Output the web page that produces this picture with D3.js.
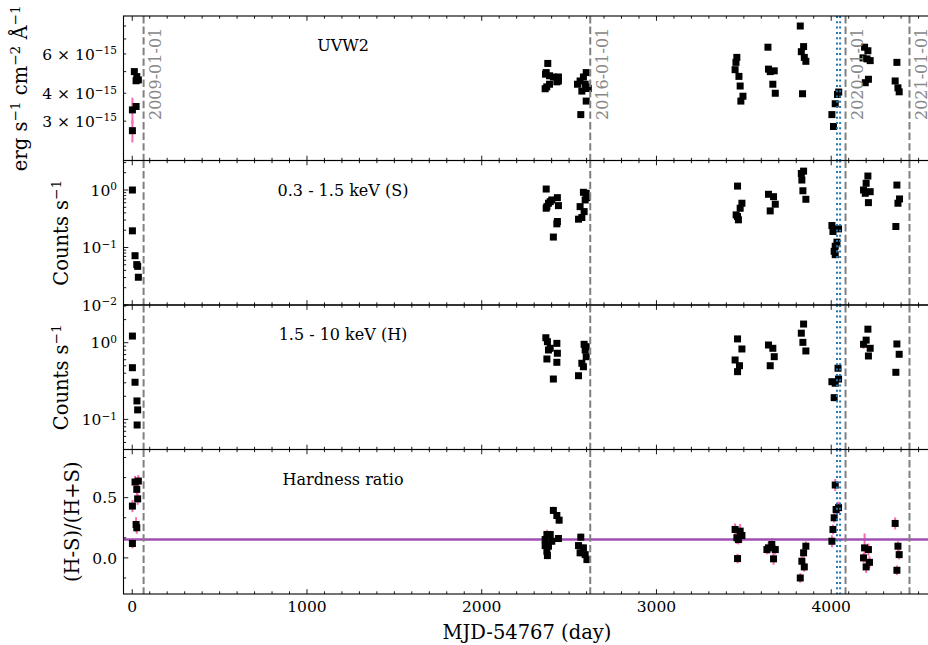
<!DOCTYPE html>
<html>
<head>
<meta charset="utf-8">
<script src="https://cdn.jsdelivr.net/npm/d3@7"></script>
<style>
  body { margin: 0; background: #fff; }
  text { font-family: "DejaVu Serif", serif; fill: #000; }
</style>
</head>
<body>
<div id="chart"></div>
<script>
// each point: [MJD-54767, value, error]
// UVW2 flux in units of 1e-15 erg s-1 cm-2 A-1
var uvw2Data = [
  [12, 5.00, 0.10], [26, 4.75, 0.10], [35, 4.59, 0.10], [22, 4.55, 0.10], [22, 3.49, 0.12], [1, 3.37, 0.45], [1, 2.72, 0.31],
  [2378, 5.44, 0.08], [2369, 4.95, 0.08], [2365, 4.87, 0.08], [2388, 4.79, 0.08], [2410, 4.73, 0.08], [2439, 4.73, 0.08],
  [2439, 4.54, 0.08], [2388, 4.39, 0.08], [2372, 4.27, 0.08], [2363, 4.19, 0.08], [2430, 4.50, 0.08],
  [2598, 4.95, 0.08], [2582, 4.73, 0.08], [2563, 4.54, 0.08], [2548, 4.39, 0.08], [2592, 4.39, 0.08], [2573, 4.09, 0.08],
  [2598, 4.27, 0.08], [2598, 3.69, 0.08], [2567, 3.21, 0.08], [2610, 4.20, 0.08],
  [3460, 5.79, 0.08], [3455, 5.50, 0.08], [3450, 5.10, 0.08], [3472, 4.76, 0.08], [3479, 4.31, 0.08], [3495, 3.88, 0.08], [3483, 3.69, 0.08],
  [3638, 6.43, 0.08], [3641, 5.13, 0.08], [3651, 5.00, 0.08], [3674, 5.04, 0.08], [3666, 4.39, 0.08], [3680, 4.00, 0.08],
  [3823, 8.00, 0.08], [3842, 6.47, 0.08], [3829, 6.14, 0.08], [3846, 5.79, 0.08], [3855, 5.56, 0.08], [3836, 3.98, 0.08],
  [4036, 3.95, 0.08], [4043, 4.05, 0.08], [4023, 3.59, 0.08], [4004, 3.21, 0.08], [4013, 2.84, 0.08],
  [4191, 6.43, 0.08], [4210, 6.20, 0.08], [4182, 5.76, 0.08], [4223, 5.60, 0.08], [4213, 4.62, 0.08], [4195, 4.46, 0.08], [4205, 5.70, 0.08],
  [4376, 5.50, 0.08], [4366, 4.54, 0.08], [4382, 4.23, 0.08], [4389, 4.06, 0.08]
];

// 0.3 - 1.5 keV count rate
var softData = [
  [1, 1.0, 0.03], [1, 0.195, 0.01], [16, 0.072, 0.004], [26, 0.0504, 0.003], [31, 0.047, 0.003], [35, 0.0304, 0.003],
  [2369, 1.04, 0.03], [2373, 0.514, 0.02], [2369, 0.482, 0.02], [2392, 0.627, 0.02], [2433, 0.736, 0.02], [2439, 0.535, 0.02],
  [2433, 0.283, 0.01], [2430, 0.258, 0.01], [2410, 0.152, 0.008], [2382, 0.589, 0.02], [2401, 0.671, 0.02],
  [2582, 0.912, 0.03], [2598, 0.877, 0.03], [2592, 0.671, 0.02], [2563, 0.514, 0.02], [2586, 0.421, 0.02], [2573, 0.332, 0.01],
  [2554, 0.311, 0.01], [2602, 0.736, 0.02],
  [3464, 1.17, 0.04], [3489, 0.589, 0.02], [3479, 0.482, 0.02], [3456, 0.369, 0.02], [3469, 0.303, 0.01], [3464, 0.345, 0.02],
  [3641, 0.843, 0.03], [3670, 0.766, 0.03], [3680, 0.566, 0.02], [3651, 0.433, 0.02],
  [3842, 2.13, 0.06], [3829, 1.94, 0.06], [3832, 1.49, 0.05], [3838, 0.97, 0.03], [3855, 0.69, 0.02],
  [4004, 0.241, 0.01], [4010, 0.19, 0.01], [4042, 0.211, 0.01], [4033, 0.124, 0.006], [4023, 0.105, 0.006], [4017, 0.0857, 0.005], [4023, 0.075, 0.005],
  [4210, 1.75, 0.05], [4200, 1.31, 0.04], [4185, 1.0, 0.12], [4223, 0.935, 0.03], [4195, 0.877, 0.03], [4213, 0.603, 0.02],
  [4376, 1.22, 0.04], [4391, 0.699, 0.02], [4382, 0.589, 0.02], [4370, 0.232, 0.01]
];

// 1.5 - 10 keV count rate
var hardData = [
  [1, 1.22, 0.04], [1, 0.472, 0.02], [16, 0.305, 0.015], [27, 0.174, 0.01], [31, 0.133, 0.008], [28, 0.0845, 0.006],
  [2367, 1.16, 0.04], [2376, 1.03, 0.03], [2392, 0.845, 0.03], [2430, 0.98, 0.03], [2373, 0.613, 0.02], [2433, 0.728, 0.02],
  [2430, 0.555, 0.02], [2410, 0.336, 0.015], [2382, 0.803, 0.03],
  [2586, 0.953, 0.03], [2598, 0.887, 0.03], [2598, 0.657, 0.02], [2573, 0.539, 0.02], [2582, 0.486, 0.02], [2554, 0.371, 0.015], [2592, 0.803, 0.03],
  [3464, 1.12, 0.04], [3489, 0.828, 0.03], [3450, 0.595, 0.02], [3475, 0.501, 0.02], [3464, 0.419, 0.02],
  [3641, 0.933, 0.03], [3666, 0.845, 0.03], [3674, 0.657, 0.02], [3651, 0.501, 0.02],
  [3842, 1.75, 0.05], [3829, 1.33, 0.04], [3838, 1.01, 0.03], [3855, 0.78, 0.03],
  [4039, 0.464, 0.02], [4004, 0.31, 0.015], [4023, 0.296, 0.015], [4042, 0.336, 0.015], [4017, 0.192, 0.01],
  [4210, 1.50, 0.05], [4200, 1.08, 0.04], [4185, 0.953, 0.12], [4223, 0.845, 0.03], [4213, 0.671, 0.02],
  [4376, 0.962, 0.03], [4389, 0.706, 0.02], [4370, 0.411, 0.02]
];

// hardness ratio (H-S)/(H+S)
var hrData = [
  [16, 0.63, 0.05], [35, 0.638, 0.05], [26, 0.569, 0.05], [31, 0.49, 0.05], [1, 0.43, 0.05], [22, 0.277, 0.06], [26, 0.25, 0.05], [1, 0.119, 0.04],
  [2410, 0.394, 0.03], [2430, 0.352, 0.03], [2443, 0.313, 0.03], [2373, 0.194, 0.04], [2392, 0.194, 0.03], [2439, 0.161, 0.03],
  [2363, 0.102, 0.03], [2382, 0.097, 0.03], [2373, 0.055, 0.03], [2376, 0.019, 0.03], [2401, 0.138, 0.03], [2363, 0.152, 0.03],
  [2567, 0.172, 0.03], [2554, 0.102, 0.03], [2582, 0.083, 0.03], [2563, 0.042, 0.03], [2592, 0.027, 0.03], [2602, -0.014, 0.03],
  [3450, 0.236, 0.05], [3479, 0.222, 0.06], [3489, 0.186, 0.05], [3460, 0.167, 0.05], [3469, 0.152, 0.04], [3464, -0.006, 0.04],
  [3641, 0.083, 0.05], [3660, 0.111, 0.05], [3680, 0.069, 0.04], [3632, 0.069, 0.04], [3670, -0.008, 0.05],
  [3855, 0.097, 0.04], [3842, 0.042, 0.04], [3832, -0.028, 0.04], [3846, -0.075, 0.04], [3823, -0.167, 0.04],
  [4023, 0.605, 0.05], [4042, 0.417, 0.05], [4028, 0.402, 0.04], [4017, 0.333, 0.04], [4010, 0.236, 0.04], [4004, 0.138, 0.05],
  [4191, 0.083, 0.12], [4213, 0.069, 0.05], [4185, 0.0, 0.04], [4219, -0.037, 0.05], [4200, -0.075, 0.05],
  [4366, 0.286, 0.05], [4382, 0.097, 0.04], [4389, 0.027, 0.04], [4376, -0.103, 0.04]
];

var hrMean = 0.152;
var dateLines = [[65, "2009-01-01"], [2621, "2016-01-01"], [4082, "2020-01-01"], [4448, "2021-01-01"]];
var dotLines = [4033, 4051];
var xMajor = [0, 1000, 2000, 3000, 4000];

var W = 928, H = 645;
var padL = 123.5, padR = 935, padT = 16, padB = 594;
var ph = (padB - padT) / 4;

var svg = d3.select("#chart").append("svg")
  .attr("width", W)
  .attr("height", H)

svg.append("rect").attr("width", W).attr("height", H).attr("fill", "#fff")

// axes run a little past the right edge of the picture
var x = d3.scaleLinear().domain([-50, 4594]).range([padL, padR])

// log ticks between lo and hi
function logTicks(lo, hi) {
  var out = []
  for (var e = -16; e <= 1; e++) {
    for (var m = 1; m <= 9; m++) {
      var v = m * Math.pow(10, e)
      if (v >= lo * 0.999 && v <= hi) out.push({ v: v, major: m == 1 })
    }
  }
  return out
}

// write text with superscript parts: [[str, isSup], ...]
function richText(sel, parts, supScale, rise) {
  var up = false
  parts.forEach(function (p) {
    var t = sel.append("tspan").text(p[0])
    if (p[1] && !up) { t.attr("dy", -rise).attr("font-size", supScale + "em"); up = true }
    else if (p[1]) { t.attr("font-size", supScale + "em") }
    else if (up) { t.attr("dy", rise); up = false }
  })
}

var panels = [
  {
    data: uvw2Data, unit: 1e-15, log: true,
    y: d3.scaleLog().domain([2.0e-15, 8.87e-15]),
    ticks: [3, 4, 5, 6, 7, 8].map(function (m) { return { v: m * 1e-15, major: false } }),
    labels: [[3e-15, [["3 × 10", 0], ["−15", 1]]], [4e-15, [["4 × 10", 0], ["−15", 1]]], [6e-15, [["6 × 10", 0], ["−15", 1]]]],
    note: "UVW2",
    ylabel: [["erg s", 0], ["−1", 1], [" cm", 0], ["−2", 1], [" Å", 0], ["−1", 1]], ylx: 27
  },
  {
    data: softData, unit: 1, log: true,
    y: d3.scaleLog().domain([0.01, 3.26]),
    ticks: logTicks(0.01, 3.26),
    labels: [[0.01, [["10", 0], ["−2", 1]]], [0.1, [["10", 0], ["−1", 1]]], [1, [["10", 0], ["0", 1]]]],
    note: "0.3 - 1.5 keV (S)",
    ylabel: [["Counts s", 0], ["−1", 1]], ylx: 68
  },
  {
    data: hardData, unit: 1, log: true,
    y: d3.scaleLog().domain([0.0405, 3.10]),
    ticks: logTicks(0.0405, 3.10),
    labels: [[0.1, [["10", 0], ["−1", 1]]], [1, [["10", 0], ["0", 1]]]],
    note: "1.5 - 10 keV (H)",
    ylabel: [["Counts s", 0], ["−1", 1]], ylx: 68
  },
  {
    data: hrData, unit: 1, log: false,
    y: d3.scaleLinear().domain([-0.3, 0.9]),
    ticks: [{ v: 0, major: true }, { v: 0.5, major: true }].concat([-1, 1, 2, 4, 5].map(function (k) { return { v: k / 6, major: false } })),
    labels: [[0, [["0.0", 0]]], [0.5, [["0.5", 0]]]],
    note: "Hardness ratio",
    ylabel: [["(H-S)/(H+S)", 0]], ylx: 79
  }
]

panels.forEach(function (p, i) {
  var y0 = padT + i * ph, y1 = y0 + ph
  p.y.range([y1, y0])
  var g = svg.append("g")

  // error bars
  g.selectAll(".err").data(p.data).enter().append("line")
    .attr("x1", function (d) { return x(d[0]) })
    .attr("x2", function (d) { return x(d[0]) })
    .attr("y1", function (d) { return p.y((d[1] + d[2]) * p.unit) })
    .attr("y2", function (d) {
      var lo = d[1] - d[2]
      if (p.log && lo <= 0) lo = d[1] * 0.5
      return p.y(lo * p.unit)
    })
    .attr("stroke", "#ff69b4")
    .attr("stroke-width", 2)

  if (i == 3) {
    g.append("line")
      .attr("x1", padL).attr("x2", padR)
      .attr("y1", p.y(hrMean)).attr("y2", p.y(hrMean))
      .attr("stroke", "#9e4fb0")
      .attr("stroke-width", 2.5)
  }

  // markers
  g.selectAll(".pt").data(p.data).enter().append("rect")
    .attr("x", function (d) { return x(d[0]) - 3.5 })
    .attr("y", function (d) { return p.y(d[1] * p.unit) - 3.5 })
    .attr("width", 7)
    .attr("height", 7)
    .attr("fill", "#000")

  // date lines
  dateLines.forEach(function (dl) {
    g.append("line")
      .attr("x1", x(dl[0])).attr("x2", x(dl[0]))
      .attr("y1", y0).attr("y2", y1)
      .attr("stroke", "#808080")
      .attr("stroke-width", 2)
      .attr("stroke-dasharray", "7.4,3.2")
  })
  dotLines.forEach(function (t) {
    g.append("line")
      .attr("x1", x(t)).attr("x2", x(t))
      .attr("y1", y0).attr("y2", y1)
      .attr("stroke", "#1f77b4")
      .attr("stroke-width", 2)
      .attr("stroke-dasharray", "2,3.3")
  })

  if (i == 0) {
    dateLines.forEach(function (dl) {
      g.append("text")
        .attr("transform", "translate(" + (x(dl[0]) + 17.5) + ",120) rotate(-90)")
        .attr("font-size", "16px")
        .style("fill", "#888")
        .text(dl[1])
    })
  }

  // frame
  g.append("rect")
    .attr("x", padL).attr("y", y0)
    .attr("width", padR - padL).attr("height", ph)
    .attr("fill", "none")
    .attr("stroke", "#000")
    .attr("stroke-width", 1.1)

  // y ticks, both sides, inward
  p.ticks.forEach(function (t) {
    var yy = p.y(t.v), len = t.major ? 4.8 : 2.7
    if (yy < y0 - 0.5 || yy > y1 + 0.5) return
    g.append("line").attr("x1", padL).attr("x2", padL + len).attr("y1", yy).attr("y2", yy).attr("stroke", "#000").attr("stroke-width", 0.9)
    g.append("line").attr("x1", padR).attr("x2", padR - len).attr("y1", yy).attr("y2", yy).attr("stroke", "#000").attr("stroke-width", 0.9)
  })
  p.labels.forEach(function (l) {
    var t = g.append("text")
      .attr("x", padL - 6.5)
      .attr("y", p.y(l[0]) + 5.8)
      .attr("text-anchor", "end")
      .attr("font-size", "15.5px")
    richText(t, l[1], 0.68, 5.5)
  })

  // x ticks top and bottom
  for (var t = 0; t <= 4500; t += 100) {
    var major = t % 1000 == 0, len = major ? 4.8 : 2.7
    g.append("line").attr("x1", x(t)).attr("x2", x(t)).attr("y1", y1).attr("y2", y1 - len).attr("stroke", "#000").attr("stroke-width", 0.9)
    g.append("line").attr("x1", x(t)).attr("x2", x(t)).attr("y1", y0).attr("y2", y0 + len).attr("stroke", "#000").attr("stroke-width", 0.9)
  }

  // panel note
  g.append("text")
    .attr("x", 343)
    .attr("y", y0 + 35)
    .attr("text-anchor", "middle")
    .attr("font-size", "16px")
    .text(p.note)

  // y label
  var yl = g.append("text")
    .attr("transform", "translate(" + p.ylx + "," + (y0 + ph / 2) + ") rotate(-90)")
    .attr("text-anchor", "middle")
    .attr("font-size", "19.5px")
  richText(yl, p.ylabel, 0.7, 7)
})

// x tick labels on bottom panel
svg.selectAll(".xl").data(xMajor).enter().append("text")
  .attr("x", function (d) { return x(d) })
  .attr("y", padB + 18.3)
  .attr("text-anchor", "middle")
  .attr("font-size", "15.5px")
  .text(function (d) { return d })

svg.append("text")
  .attr("x", 527)
  .attr("y", 639)
  .attr("text-anchor", "middle")
  .attr("font-size", "19.5px")
  .text("MJD-54767 (day)")
</script>
</body>
</html>
